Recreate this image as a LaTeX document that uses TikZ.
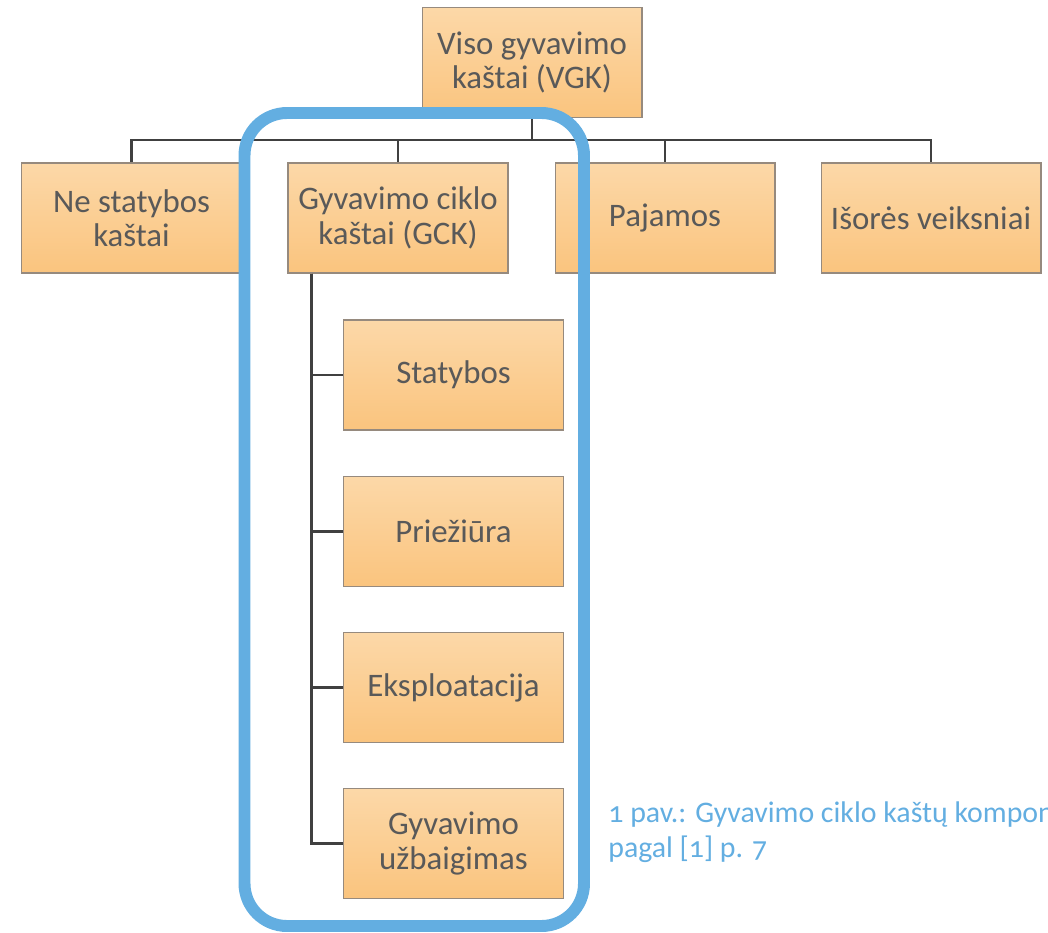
\documentclass[tikz,border=0pt]{standalone}
\usepackage{fontspec}
\setmainfont{Carlito}
\newfontfamily\capfont{Carlito}[Numbers=OldStyle]
\usepackage{xcolor}
\usetikzlibrary{positioning}

\definecolor{boxtop}{RGB}{252,216,168}
\definecolor{boxbot}{RGB}{250,196,126}
\definecolor{boxline}{RGB}{150,138,126}
\definecolor{boxtext}{RGB}{89,89,89}
\definecolor{linkgray}{RGB}{64,64,64}
\definecolor{frameblue}{RGB}{99,174,225}

\begin{document}
\begin{tikzpicture}[
  x=0.02cm, y=-0.02cm,
  box/.style={rectangle, draw=boxline, line width=0.6pt, top color=boxtop, bottom color=boxbot,
    minimum width=4.4cm, minimum height=2.2cm, inner sep=2pt, align=center, text=boxtext,
    font=\fontsize{18.7}{19.6}\selectfont},
  link/.style={draw=linkgray, line width=1.6pt},
  frame/.style={draw=frameblue, line width=6.8pt, rounded corners=0.85cm},
]
  \clip (0,0) rectangle (1048,933);

  % Nodes
  \node[box] (vgk) at (532,62.5) {Viso gyvavimo\\kaštai (VGK)};
  \node[box] (nsk) at (131.5,218) {Ne statybos\\kaštai};
  \node[box] (gck) at (398,218) {Gyvavimo ciklo\\kaštai (GCK)};
  \node[box] (paj) at (665,218) {Pajamos};
  \node[box] (isv) at (931,218) {Išorės veiksniai};

  \node[box] (stat) at (453.5,375) {Statybos};
  \node[box] (prie) at (453.5,531.5) {Priežiūra};
  \node[box] (eksp) at (453.5,687.5) {Eksploatacija};
  \node[box] (uzb) at (453.5,843.5) {Gyvavimo\\užbaigimas};

  % Connectors
  \coordinate (bus) at (532,140);
  \draw[link] (vgk.south) -- (bus);
  \draw[link] (bus) -| (nsk.north);
  \draw[link] (bus) -| (gck.north);
  \draw[link] (bus) -| (paj.north);
  \draw[link] (bus) -| (isv.north);

  \coordinate (trunk) at ([xshift=0.48cm]gck.south west);
  \foreach \n in {stat, prie, eksp, uzb}
    \draw[link] (trunk) |- (\n.west);

  % Highlight round the GCK branch
  \draw[frame] (244.5,113) rectangle (584,926);

  % Caption
  \node[anchor=base west, align=left, text=frameblue, inner sep=0pt,
    font=\capfont\fontsize{17}{19.9}\selectfont] (cap) at (608,857)
    {1 pav.: Gyvavimo ciklo kaštų komponentai\\pagal [1] p. 7};
\end{tikzpicture}
\end{document}
